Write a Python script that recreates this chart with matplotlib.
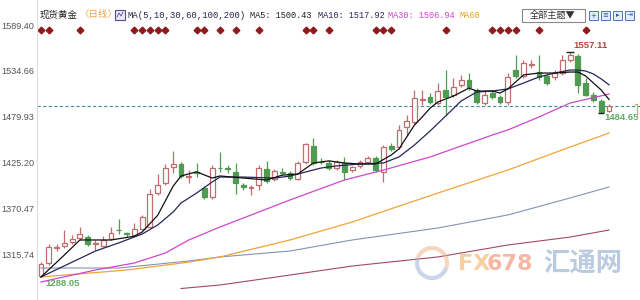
import matplotlib
matplotlib.use("Agg")
import matplotlib.pyplot as plt
from matplotlib.patches import Rectangle, Arc
import numpy as np

# daily candles for spot gold, oldest first
opens = [1290.0, 1305.0, 1323.5, 1325.3, 1330.0, 1335.0, 1336.0, 1327.5, 1325.3, 1333.7,
         1345.0, 1341.0, 1338.4, 1345.6, 1348.0, 1388.6, 1400.6, 1419.7, 1423.3, 1408.0,
         1414.0, 1394.6, 1383.9, 1419.0, 1418.0, 1413.7, 1398.2, 1395.0, 1398.2, 1417.3,
         1405.4, 1414.0, 1412.5, 1405.4, 1425.7, 1444.8, 1426.0, 1424.5, 1418.5, 1424.5,
         1416.0, 1421.0, 1425.7, 1430.5, 1413.7, 1444.8, 1443.6, 1467.5, 1473.5, 1500.0,
         1503.4, 1496.2, 1511.7, 1505.7, 1517.7, 1523.7, 1511.7, 1496.2, 1508.0, 1503.4,
         1497.4, 1535.6, 1528.5, 1541.5, 1533.2, 1528.5, 1527.3, 1532.0, 1547.6, 1552.3,
         1520.1, 1505.7, 1498.6, 1486.6]
highs = [1306.0, 1328.0, 1328.0, 1344.4, 1338.5, 1348.0, 1338.5, 1332.5, 1337.0, 1348.0,
         1357.6, 1342.0, 1352.8, 1362.4, 1393.4, 1411.3, 1423.3, 1438.8, 1425.7, 1416.0,
         1424.5, 1397.0, 1422.0, 1437.6, 1422.0, 1424.5, 1400.6, 1398.0, 1422.0, 1427.0,
         1417.3, 1418.5, 1415.0, 1427.0, 1448.4, 1454.4, 1430.0, 1428.0, 1428.0, 1432.0,
         1421.0, 1428.0, 1433.0, 1433.0, 1446.0, 1448.4, 1469.9, 1481.8, 1511.7, 1511.7,
         1508.0, 1520.0, 1535.6, 1526.0, 1529.7, 1532.0, 1514.0, 1511.7, 1510.5, 1505.7,
         1532.0, 1554.0, 1547.6, 1547.6, 1553.5, 1530.9, 1535.6, 1553.5, 1557.11, 1555.0,
         1526.0, 1509.0, 1501.0, 1495.0]
lows = [1288.05, 1303.0, 1319.5, 1323.0, 1328.0, 1332.5, 1325.3, 1320.5, 1324.0, 1332.5,
        1339.6, 1336.0, 1337.0, 1344.0, 1346.8, 1386.0, 1398.0, 1412.5, 1406.5, 1400.6,
        1407.7, 1381.5, 1381.5, 1413.7, 1412.5, 1387.4, 1392.2, 1386.0, 1392.2, 1400.6,
        1403.0, 1410.0, 1404.2, 1404.2, 1423.3, 1422.0, 1423.0, 1416.0, 1416.0, 1404.2,
        1414.0, 1418.5, 1423.3, 1413.7, 1401.8, 1438.8, 1441.2, 1457.0, 1471.0, 1493.8,
        1495.0, 1494.0, 1481.8, 1503.0, 1515.0, 1511.7, 1495.0, 1493.8, 1501.0, 1495.0,
        1493.8, 1526.1, 1526.0, 1538.0, 1523.7, 1517.7, 1523.7, 1529.7, 1545.0, 1508.1,
        1504.5, 1497.4, 1484.65, 1485.5]
closes = [1304.0, 1324.0, 1324.5, 1329.0, 1333.5, 1339.6, 1327.7, 1328.5, 1332.5, 1340.8,
          1344.0, 1339.6, 1345.6, 1360.0, 1387.4, 1398.2, 1418.5, 1423.3, 1408.9, 1409.0,
          1413.0, 1383.9, 1418.5, 1418.0, 1417.0, 1400.6, 1395.8, 1396.0, 1418.5, 1403.0,
          1414.9, 1413.0, 1406.5, 1424.5, 1447.2, 1424.5, 1425.5, 1418.5, 1425.7, 1413.7,
          1419.7, 1425.7, 1430.5, 1416.0, 1443.6, 1441.2, 1464.0, 1474.7, 1502.2, 1501.0,
          1497.4, 1510.5, 1503.4, 1515.3, 1523.7, 1515.3, 1497.4, 1505.7, 1503.4, 1497.4,
          1527.3, 1528.5, 1544.0, 1543.0, 1527.3, 1520.1, 1532.0, 1547.6, 1553.5, 1517.7,
          1505.7, 1499.8, 1485.4, 1492.5]

# moving averages, read at selected candle indices
ma5_idx = [0, 3, 5, 9, 12, 13, 15, 17, 18, 20, 22, 23, 26, 29, 31, 33, 35, 37, 39, 41,
           43, 45, 46, 47, 48, 49, 50, 51, 53, 55, 56, 58, 59, 60, 62, 64, 66, 68, 69, 70,
           71, 72, 73]
ma5_val = [1288.3, 1314.5, 1332.5, 1332.5, 1337.0, 1342.0, 1362.0, 1397.0, 1409.0, 1414.0,
           1406.5, 1409.0, 1406.5, 1404.2, 1410.0, 1411.3, 1424.5, 1427.0, 1424.5, 1423.3,
           1423.3, 1434.0, 1441.2, 1455.6, 1469.9, 1479.5, 1490.0, 1497.4, 1504.5, 1514.0,
           1510.5, 1510.5, 1508.1, 1513.0, 1529.7, 1532.0, 1532.0, 1533.2, 1533.2, 1528.5,
           1520.0, 1511.7, 1500.43]
ma10_idx = [0, 4, 7, 10, 13, 15, 17, 18, 20, 22, 23, 26, 30, 32, 34, 36, 38, 41, 44, 46,
            48, 50, 52, 54, 56, 58, 60, 62, 64, 66, 68, 69, 70, 71, 72, 73]
ma10_val = [1288.3, 1306.0, 1319.3, 1329.0, 1339.6, 1350.4, 1366.0, 1376.7, 1388.6, 1401.8,
            1407.7, 1407.7, 1406.5, 1408.9, 1413.7, 1418.5, 1421.0, 1423.3, 1424.5, 1431.7,
            1446.0, 1462.7, 1480.6, 1498.6, 1509.3, 1510.5, 1513.0, 1520.0, 1527.3, 1532.0,
            1535.6, 1535.6, 1534.4, 1530.8, 1524.9, 1517.92]
ma30_idx = [0, 7, 12, 16, 19, 23, 32, 39, 44, 50, 58, 60, 64, 68, 73]
ma30_val = [1282.3, 1296.6, 1305.0, 1317.0, 1332.5, 1348.0, 1380.3, 1404.2, 1416.0, 1431.7,
            1457.9, 1464.0, 1479.5, 1496.2, 1506.94]
ma60_idx = [0, 11, 19, 23, 32, 40, 51, 60, 68, 73]
ma60_val = [1288.3, 1296.6, 1306.0, 1312.2, 1332.5, 1354.0, 1388.6, 1416.1, 1443.6, 1460.3]
ma100_idx = [0, 10, 19, 23, 32, 40, 51, 60, 68, 73]
ma100_val = [1299.0, 1299.0, 1307.4, 1312.2, 1319.3, 1332.5, 1346.8, 1362.4, 1382.7, 1395.8]
ma200_idx = [18, 23, 32, 40, 51, 60, 68, 73]
ma200_val = [1274.5, 1278.7, 1290.6, 1301.4, 1312.2, 1326.5, 1336.0, 1344.4]

# event markers on the top row (candle indices)
event_idx = [0, 1, 5, 12, 13, 14, 15, 16, 20, 21, 23, 25, 28, 34, 35, 37, 43, 44, 45,
             52, 58, 59, 60, 61, 64, 70]

y_ticks = [1589.40, 1534.66, 1479.93, 1425.20, 1370.47, 1315.74]
high_idx, low_idx_first, low_idx_last = 68, 0, 72

up_col = "#c26d6d"
dn_col = "#4f9b4f"
cjk = ["Noto Sans CJK SC", "DejaVu Sans"]

fig = plt.figure(figsize=(6.4, 3.0), dpi=100)
ax = fig.add_axes([37 / 640, 0, 603 / 640, 1])
ax.set_xlim(-0.51, 76.98)
ax.set_ylim(1260.77, 1619.28)

o = np.array(opens)
h = np.array(highs)
l = np.array(lows)
c = np.array(closes)
x = np.arange(len(o))
up = c >= o
cols = np.where(up, up_col, dn_col)

ax.vlines(x, l, h, colors=cols, lw=0.9, zorder=2)
ax.bar(x, np.maximum(np.abs(c - o), 0.01), bottom=np.minimum(o, c), width=0.62,
       color=np.where(up, "white", dn_col), edgecolor=cols, lw=0.9, zorder=3)

ax.plot(ma200_idx, ma200_val, color="#a24a62", lw=0.8, zorder=4)
ax.plot(ma100_idx, ma100_val, color="#8592b0", lw=0.8, zorder=4)
ax.plot(ma60_idx, ma60_val, color="#f0a43a", lw=0.9, zorder=4)
ax.plot(ma30_idx, ma30_val, color="#cc48cc", lw=0.9, zorder=4)
ax.plot(ma10_idx, ma10_val, color="#262658", lw=0.9, zorder=5)
ax.plot(ma5_idx, ma5_val, color="#111111", lw=0.9, zorder=5)

# last close level
ax.axhline(closes[-1], color="#3f9099", lw=0.8, dashes=(3, 2), zorder=1)

# event diamonds along the top
ax.plot(event_idx, [0.9] * len(event_idx), ls="none", marker="D", ms=3.4,
        color="#8e1b1b", transform=ax.get_xaxis_transform(), clip_on=False)

# high / low marks
ax.plot([high_idx], [highs[high_idx]], marker="_", ms=6, color="#222222", zorder=6)
ax.plot([low_idx_last], [lows[low_idx_last]], marker="_", ms=5, color="#222222", zorder=6)
ax.annotate(f"{highs[high_idx]:.2f}", (high_idx, highs[high_idx]), xytext=(2.2, 5),
            textcoords="offset points", ha="left", va="center", fontsize=6.8,
            fontweight="bold", color="#b24a3c", family="Liberation Sans")
ax.annotate(f"{lows[low_idx_last]:.2f}", (low_idx_last, lows[low_idx_last]), xytext=(2.2, -3.8),
            textcoords="offset points", ha="left", va="center", fontsize=6.8,
            fontweight="bold", color="#62ad62", family="Liberation Sans", annotation_clip=False)
ax.annotate(f"{lows[low_idx_first]:.2f}", (low_idx_first, lows[low_idx_first]), xytext=(2.9, -4.5),
            textcoords="offset points", ha="left", va="center", fontsize=6.8,
            fontweight="bold", color="#62ad62", family="Liberation Sans")

ax.set_yticks(y_ticks)
ax.set_yticklabels([f"{v:.2f}" for v in y_ticks], family="Liberation Sans",
                   fontsize=6.6, color="#555555")
ax.tick_params(axis="y", length=0, pad=2)
ax.set_xticks([])
for s in ["top", "right", "bottom"]:
    ax.spines[s].set_visible(False)
ax.spines["left"].set_color("#dddddd")
ax.spines["left"].set_linewidth(0.8)

# overlay in pixel coordinates for header and watermark
ov = fig.add_axes([0, 0, 1, 1], zorder=10)
ov.set_xlim(0, 640)
ov.set_ylim(300, 0)
ov.axis("off")
ov.patch.set_alpha(0)

ov.text(40, 15, "现货黄金", family=cjk, fontsize=6.8, color="#222222", va="center")
ov.text(79, 15, "〈日线〉", family=cjk, fontsize=6.8, color="#e6a64a", va="center")
ov.add_patch(Rectangle((115, 10), 10, 10, fc="#eeeaf8", ec="#5a4b95", lw=0.8))
ov.plot([117, 119, 121, 123], [17, 13, 16, 12], color="#5a4b95", lw=0.6)
ov.text(127, 15, "MA(5,10,30,60,100,200)", family="Liberation Mono", fontsize=6.4,
        color="#222244", va="center")
ov.text(250, 15, "MA5: 1500.43", family="Liberation Mono", fontsize=6.2, color="#222222", va="center")
ov.text(318, 15, "MA10: 1517.92", family="Liberation Mono", fontsize=6.2, color="#262658", va="center")
ov.text(388, 15, "MA30: 1506.94", family="Liberation Mono", fontsize=6.2, color="#cc48cc", va="center")
ov.text(459, 15, "MA60", family="Liberation Mono", fontsize=6.2, color="#e6a030", va="center")

ov.add_patch(Rectangle((522, 9), 63, 13, fc="white", ec="#8a8a8a", lw=0.8))
ov.text(553, 15.5, "全部主题▼", family=cjk, fontsize=6.6, color="#333333", ha="center", va="center")
for bx, sym in zip([589, 601, 613, 625], ["+", "≡", "▸", "⇥"]):
    ov.add_patch(Rectangle((bx, 11), 9, 9, fc="#e4eefa", ec="#4a78b8", lw=0.7))
    ov.text(bx + 4.5, 15.5, sym, family="DejaVu Sans", fontsize=5, color="#2a5a9a",
            ha="center", va="center")

# current price bracket on the right edge
ov.plot([635, 637, 637], [104, 104, 118], color="#f0a43a", lw=0.9)

# watermark
ov.add_patch(Arc((432, 263), 30, 30, theta1=200, theta2=20, ec="#f2b489", lw=3, alpha=0.55))
ov.add_patch(Arc((432, 263), 30, 30, theta1=20, theta2=200, ec="#9fb4d6", lw=3, alpha=0.55))
ov.text(458, 264, "FX", family="DejaVu Sans", fontsize=16, fontweight="bold",
        color="#f7c48a", alpha=0.8, va="center")
ov.text(487, 264, "678", family="DejaVu Sans", fontsize=16, fontweight="bold",
        color="#f3a48e", alpha=0.8, va="center")
ov.text(543, 264, "汇通网", family=cjk, fontsize=19, fontweight="bold",
        color="#a9bdd9", alpha=0.8, va="center")

fig.savefig("out.png", dpi=100)
